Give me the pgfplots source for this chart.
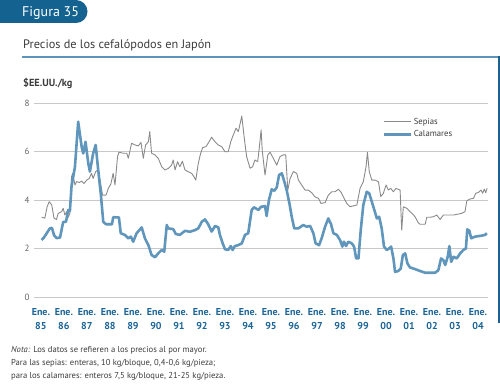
\documentclass[border=0pt]{standalone}
\usepackage{pgfplots}
\pgfplotsset{compat=1.18}
\usepackage{fontspec}
\setmainfont{PT Sans}
\definecolor{tabblue}{HTML}{14628F}
\definecolor{rulblue}{HTML}{5B93BA}
\definecolor{edgeblue}{HTML}{1E5F8C}
\definecolor{calblue}{HTML}{6096BC}
\definecolor{sepgray}{HTML}{8A8A8A}
\definecolor{tickblue}{HTML}{1A6496}
\definecolor{gridgray}{HTML}{C8C8C8}
\definecolor{txtgray}{HTML}{3C3C3C}
\begin{document}
\begin{tikzpicture}
\useasboundingbox (0pt,0pt) rectangle (500pt,383pt);
\fill[tabblue] (0pt,383pt) -- (76pt,383pt) arc[start angle=90,end angle=-90,radius=11.5pt] -- (0pt,360pt) -- cycle;
\node[anchor=base west,inner sep=0pt,text=white,font=\fontsize{14}{15}\selectfont] at (22pt,366.5pt) {Figura 35};
\node[anchor=base west,inner sep=0pt,text=txtgray,font=\fontsize{12.3}{14}\selectfont] at (23pt,334pt) {Precios de los cefalópodos en Japón};
\draw[rulblue,line width=1.6pt] (22pt,326pt) -- (499pt,326pt);
\draw[edgeblue,line width=1.4pt] (499pt,326.8pt) -- (499pt,60pt);
\node[anchor=base west,inner sep=0pt,text=txtgray,font=\bfseries\fontsize{10.3}{11}\selectfont] at (23pt,296pt) {\$EE.UU./kg};
\node[anchor=north west,inner sep=0pt,align=left,text=txtgray,font=\fontsize{8.6}{13}\selectfont] at (11pt,37pt) {\textit{Nota:} Los datos se refieren a los precios al por mayor.\\Para las sepias: enteras, 10 kg/bloque, 0,4-0,6 kg/pieza;\\para los calamares: enteros 7,5 kg/bloque, 21-25 kg/pieza.};
\begin{axis}[
  at={(34pt,86pt)}, anchor=south west,
  scale only axis, width=454pt, height=194pt,
  xmin=1984.70, xmax=2004.43, ymin=0, ymax=8,
  axis line style={draw=none},
  tick style={draw=none},
  ymajorgrids, grid style={gridgray,line width=0.8pt},
  ytick={0,2,4,6,8},
  /pgf/number format/assume math mode=true,
  yticklabel style={font=\fontsize{9}{10}\selectfont,text=txtgray!80,xshift=-1pt},
  xtick={1985,...,2004},
  xticklabels={Ene.\\85,Ene.\\86,Ene.\\87,Ene.\\88,Ene.\\89,Ene.\\90,Ene.\\91,Ene.\\92,Ene.\\93,Ene.\\94,Ene.\\95,Ene.\\96,Ene.\\97,Ene.\\98,Ene.\\99,Ene.\\00,Ene.\\01,Ene.\\02,Ene.\\03,Ene.\\04},
  xticklabel style={align=center,font=\bfseries\fontsize{10}{14}\selectfont,text=tickblue,yshift=-8pt},
  legend style={draw=none,fill=none,at={(0.76,0.945)},anchor=north west,font=\fontsize{8.7}{10}\selectfont,text=txtgray,row sep=1pt},
  legend cell align=left,
  legend image code/.code={\draw[#1] (0pt,0pt) -- (27pt,0pt);},
]
\addplot[sepgray,line width=0.9pt,line join=round] coordinates {
(1985.03,3.29)(1985.17,3.25)(1985.27,3.72)(1985.36,3.93)(1985.47,3.80)(1985.57,3.25)(1985.68,3.20)(1985.75,3.45)(1985.90,3.52)(1985.97,3.66)
(1986.04,3.38)(1986.12,3.52)(1986.19,3.29)(1986.26,3.45)(1986.33,4.96)(1986.38,5.10)(1986.48,4.62)(1986.55,4.76)(1986.67,4.72)(1986.77,4.78)(1986.87,4.68)(1986.99,4.82)
(1987.10,4.89)(1987.20,5.10)(1987.27,4.89)(1987.38,5.17)(1987.47,5.24)(1987.57,4.82)(1987.68,4.20)(1987.83,4.20)(1987.93,4.48)
(1988.04,4.66)(1988.14,5.10)(1988.22,4.62)(1988.33,5.79)(1988.39,5.97)(1988.58,5.93)(1988.73,5.93)(1988.80,5.72)(1988.94,6.34)
(1989.09,6.27)(1989.23,6.23)(1989.35,6.37)(1989.45,5.72)(1989.55,6.27)(1989.67,6.40)(1989.73,6.82)(1989.81,5.93)(1989.96,5.86)
(1990.10,5.72)(1990.25,5.37)(1990.39,5.24)(1990.53,5.30)(1990.68,5.44)(1990.75,5.65)(1990.83,5.24)(1990.94,5.58)
(1991.04,5.37)(1991.15,5.60)(1991.26,5.24)(1991.40,5.17)(1991.55,5.10)(1991.65,4.96)(1991.73,4.82)(1991.84,5.51)(1991.94,5.92)
(1992.03,6.16)(1992.17,6.20)(1992.27,6.34)(1992.42,6.59)(1992.57,6.40)(1992.71,6.27)(1992.86,6.20)
(1993.00,5.99)(1993.14,5.99)(1993.25,6.40)(1993.36,6.68)(1993.48,6.96)(1993.58,6.82)(1993.73,7.46)(1993.83,6.62)(1993.94,5.79)
(1994.09,5.31)(1994.20,5.37)(1994.30,5.65)(1994.42,5.58)(1994.48,6.06)(1994.57,6.89)(1994.62,6.03)(1994.74,5.03)(1994.86,5.86)(1994.96,5.97)
(1995.10,5.72)(1995.25,5.44)(1995.39,5.79)(1995.53,5.86)(1995.64,5.86)(1995.73,4.41)(1995.83,4.89)(1995.97,5.17)
(1996.12,5.10)(1996.19,4.82)(1996.33,4.62)(1996.48,4.41)(1996.62,4.41)(1996.77,4.30)(1996.91,4.13)
(1997.06,4.07)(1997.17,3.86)(1997.35,3.89)(1997.49,4.20)(1997.64,4.34)(1997.78,4.34)(1997.93,4.44)
(1998.03,4.34)(1998.14,4.14)(1998.29,3.86)(1998.43,3.72)(1998.58,3.76)(1998.73,3.79)(1998.87,4.48)
(1999.01,4.75)(1999.13,5.37)(1999.19,5.97)(1999.27,5.17)(1999.38,4.82)(1999.52,4.82)(1999.67,4.75)(1999.77,4.14)(1999.88,4.27)
(2000.00,4.62)(2000.10,4.41)(2000.20,4.48)(2000.32,4.34)(2000.43,4.48)(2000.61,4.41)(2000.68,2.76)(2000.75,3.72)(2000.90,3.66)
(2001.04,3.52)(2001.12,3.45)(2001.26,3.31)(2001.40,3.06)(2001.48,3.00)(2001.70,3.00)(2001.77,3.29)(2001.91,3.29)
(2002.06,3.31)(2002.20,3.38)(2002.35,3.20)(2002.49,3.38)(2002.71,3.38)(2002.93,3.38)
(2003.14,3.42)(2003.29,3.45)(2003.43,3.52)(2003.51,3.97)(2003.65,4.04)(2003.80,4.07)(2003.90,4.28)
(2004.01,4.31)(2004.13,4.41)(2004.20,4.28)(2004.27,4.45)(2004.33,4.30)(2004.39,4.48)
};
\addlegendentry{Sepias}
\addplot[calblue,line width=2.6pt,line join=round] coordinates {
(1985.03,2.35)(1985.13,2.45)(1985.39,2.83)(1985.48,2.85)(1985.57,2.55)(1985.68,2.43)(1985.83,2.45)(1985.97,3.10)
(1986.09,3.10)(1986.19,3.59)(1986.26,3.55)(1986.33,4.55)(1986.48,5.37)(1986.62,7.23)(1986.77,6.20)(1986.84,5.92)(1986.94,6.40)
(1987.06,5.50)(1987.13,5.17)(1987.27,5.92)(1987.38,6.27)(1987.49,5.24)(1987.60,4.28)(1987.71,3.10)(1987.83,3.00)
(1988.09,3.00)(1988.14,3.29)(1988.39,3.28)(1988.47,2.63)(1988.65,2.56)(1988.80,2.42)(1988.91,2.49)
(1989.01,2.28)(1989.16,2.63)(1989.38,2.87)(1989.52,2.42)(1989.67,2.14)(1989.81,1.73)(1989.96,1.64)
(1990.10,1.80)(1990.25,1.94)(1990.36,1.87)(1990.47,2.97)(1990.53,2.83)(1990.75,2.80)(1990.86,2.60)
(1991.04,2.56)(1991.26,2.73)(1991.48,2.69)(1991.70,2.76)(1991.84,2.83)(1991.99,3.10)
(1992.13,3.20)(1992.27,3.00)(1992.42,2.70)(1992.57,2.93)(1992.71,2.87)(1992.78,2.56)(1992.90,2.21)
(1993.00,1.97)(1993.14,1.94)(1993.25,2.10)(1993.33,1.94)(1993.43,2.10)(1993.58,2.14)(1993.73,2.21)(1993.87,2.56)
(1994.01,2.63)(1994.16,3.59)(1994.26,3.70)(1994.45,3.59)(1994.57,3.72)(1994.74,3.75)(1994.81,3.34)(1994.91,4.00)
(1995.03,4.44)(1995.14,4.38)(1995.25,4.52)(1995.35,5.03)(1995.47,5.10)(1995.58,4.75)(1995.68,4.41)(1995.80,3.86)(1995.90,3.31)
(1996.01,2.83)(1996.19,2.83)(1996.40,2.97)(1996.55,2.90)(1996.70,2.93)(1996.84,2.63)(1996.94,2.21)
(1997.09,2.14)(1997.20,2.42)(1997.35,2.90)(1997.49,3.24)(1997.61,3.00)(1997.71,2.63)(1997.86,2.56)
(1998.00,2.35)(1998.10,2.08)(1998.17,2.28)(1998.26,2.10)(1998.36,2.28)(1998.51,2.21)(1998.61,2.08)(1998.70,1.59)(1998.80,1.59)(1998.90,2.76)
(1999.01,3.79)(1999.16,4.34)(1999.27,4.27)(1999.38,3.93)(1999.49,3.59)(1999.60,3.24)(1999.70,3.31)(1999.81,2.83)(1999.91,2.08)
(2000.03,1.94)(2000.14,2.01)(2000.22,2.08)(2000.32,1.59)(2000.39,1.04)(2000.53,1.07)(2000.64,1.18)(2000.73,1.73)(2000.83,1.80)(2000.93,1.38)
(2001.04,1.22)(2001.26,1.15)(2001.48,1.07)(2001.70,1.00)(2001.91,1.00)
(2002.13,1.00)(2002.27,1.10)(2002.39,1.59)(2002.49,1.52)(2002.57,1.32)(2002.68,1.66)(2002.75,2.10)(2002.83,1.45)(2002.93,1.66)
(2003.07,1.59)(2003.22,1.80)(2003.36,1.94)(2003.47,2.00)(2003.53,2.79)(2003.62,2.73)(2003.70,2.42)(2003.87,2.49)
(2004.09,2.52)(2004.30,2.56)(2004.38,2.63)
};
\addlegendentry{Calamares}
\end{axis}
\end{tikzpicture}
\end{document}
